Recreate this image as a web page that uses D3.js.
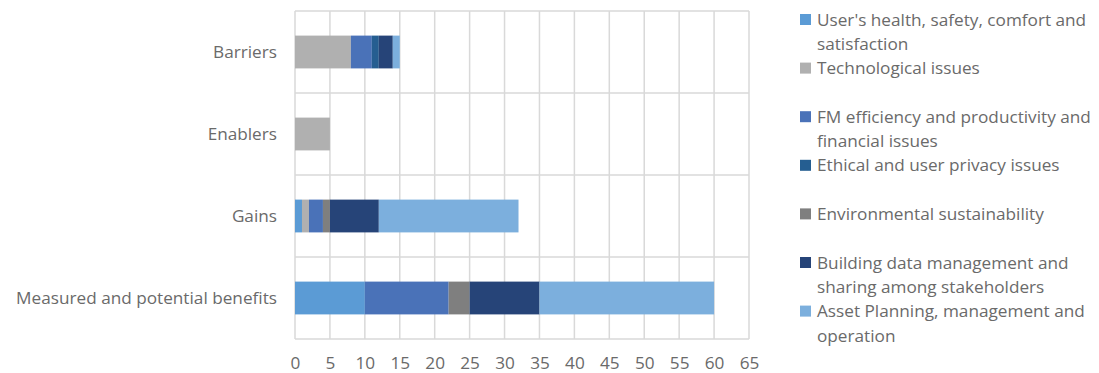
<!DOCTYPE html>
<html>
<head>
<meta charset="utf-8">
<script src="https://d3js.org/d3.v7.min.js"></script>
<style>
    body { margin: 0; background: #fff; }
    text { font-family: "Open Sans", "Liberation Sans", sans-serif; }
</style>
</head>
<body>
<div id="chart"></div>
<script>
// categories, top to bottom
const categories = ["Barriers", "Enablers", "Gains", "Measured and potential benefits"];

const seriesNames = [
    "User's health, safety, comfort and satisfaction",
    "Technological issues",
    "FM efficiency and productivity and financial issues",
    "Ethical and user privacy issues",
    "Environmental sustainability",
    "Building data management and sharing among stakeholders",
    "Asset Planning, management and operation"
];

const seriesColors = ["#5b9bd5", "#b0b0b0", "#4a72b8", "#255e91", "#7f7f7f", "#264478", "#7cafdd"];

// values per series, in category order
const userHealth    = [0, 0, 1, 10];
const technological = [8, 5, 1, 0];
const fmEfficiency  = [3, 0, 2, 12];
const ethical       = [1, 0, 0, 0];
const environmental = [0, 0, 1, 3];
const buildingData  = [2, 0, 7, 10];
const assetPlanning = [1, 0, 20, 25];

const xTicks = [0, 5, 10, 15, 20, 25, 30, 35, 40, 45, 50, 55, 60, 65];

const seriesValues = [userHealth, technological, fmEfficiency, ethical, environmental, buildingData, assetPlanning];

// build a table for d3.stack
const table = categories.map((c, i) => {
    let row = {category: c};
    seriesNames.forEach((s, j) => row[s] = seriesValues[j][i]);
    return row;
});

const width = 1099, height = 373;
const margin = {top: 11, right: 350, bottom: 34, left: 295};
const w = width - margin.left - margin.right;
const h = height - margin.top - margin.bottom;
const textColor = "#6a6a6a";
const fontSize = "17.2px";

const svg = d3.select("#chart").append("svg")
    .attr("width", width)
    .attr("height", height);

const g = svg.append("g")
    .attr("transform", `translate(${margin.left}, ${margin.top})`);

const x = d3.scaleLinear().domain([0, 65]).range([0, w]);
const y = d3.scaleBand().domain(categories).range([0, h]).paddingInner(0.6).paddingOuter(0.3);

// vertical gridlines
g.selectAll(".vgrid")
    .data(xTicks)
    .enter().append("line")
    .attr("class", "vgrid")
    .attr("x1", d => x(d)).attr("x2", d => x(d))
    .attr("y1", 0).attr("y2", h)
    .attr("stroke", "#d9d9d9")
    .attr("stroke-width", 1.5);

// horizontal lines between categories
const bounds = d3.range(categories.length + 1).map(i => i * y.step());
g.selectAll(".hgrid")
    .data(bounds)
    .enter().append("line")
    .attr("class", "hgrid")
    .attr("x1", 0).attr("x2", w)
    .attr("y1", d => d).attr("y2", d => d)
    .attr("stroke", "#d9d9d9")
    .attr("stroke-width", 1.5);

// stacked bars
const stacked = d3.stack().keys(seriesNames)(table);

g.selectAll(".series")
    .data(stacked)
    .enter().append("g")
    .attr("class", "series")
    .attr("fill", (d, i) => seriesColors[i])
    .selectAll("rect")
    .data(d => d)
    .enter().append("rect")
    .attr("x", d => x(d[0]))
    .attr("y", d => y(d.data.category))
    .attr("width", d => x(d[1]) - x(d[0]))
    .attr("height", y.bandwidth());

// x axis
const xAxis = d3.axisBottom(x).tickValues(xTicks).tickSize(0).tickPadding(18);
g.append("g")
    .attr("class", "x-axis")
    .attr("transform", `translate(0, ${h})`)
    .call(xAxis)
    .call(a => a.select(".domain").remove())
    .selectAll("text")
    .style("font-size", fontSize);

// y axis
const yAxis = d3.axisLeft(y).tickSize(0).tickPadding(18);
g.append("g")
    .attr("class", "y-axis")
    .call(yAxis)
    .call(a => a.select(".domain").remove())
    .selectAll("text")
    .style("font-size", fontSize);

g.selectAll(".x-axis text, .y-axis text").attr("fill", textColor);

// legend
const legend = svg.append("g").attr("class", "legend")
    .attr("transform", "translate(800, 0)");

const item = legend.selectAll(".item")
    .data(seriesNames)
    .enter().append("g")
    .attr("class", "item")
    .attr("transform", (d, i) => `translate(0, ${19.5 + i * 48.6})`);

item.append("rect")
    .attr("x", 0).attr("y", -5.5)
    .attr("width", 11).attr("height", 11)
    .attr("fill", (d, i) => seriesColors[i]);

item.append("text")
    .attr("x", 17)
    .attr("y", 0)
    .style("font-size", fontSize)
    .attr("fill", textColor)
    .text(d => d)
    .call(wrap, 284);

function wrap(text, width) {
    text.each(function() {
        let t = d3.select(this),
            words = t.text().split(/\s+/).reverse(),
            word,
            line = [],
            lineNumber = 0,
            xPos = t.attr("x"),
            tspan = t.text(null).append("tspan").attr("x", xPos).attr("y", 0).attr("dy", "0.35em");
        while (word = words.pop()) {
            line.push(word);
            tspan.text(line.join(" "));
            if (tspan.node().getComputedTextLength() > width && line.length > 1) {
                line.pop();
                tspan.text(line.join(" "));
                line = [word];
                lineNumber++;
                tspan = t.append("tspan").attr("x", xPos).attr("y", lineNumber * 24.5).attr("dy", "0.35em").text(word);
            }
        }
    });
}
</script>
</body>
</html>
